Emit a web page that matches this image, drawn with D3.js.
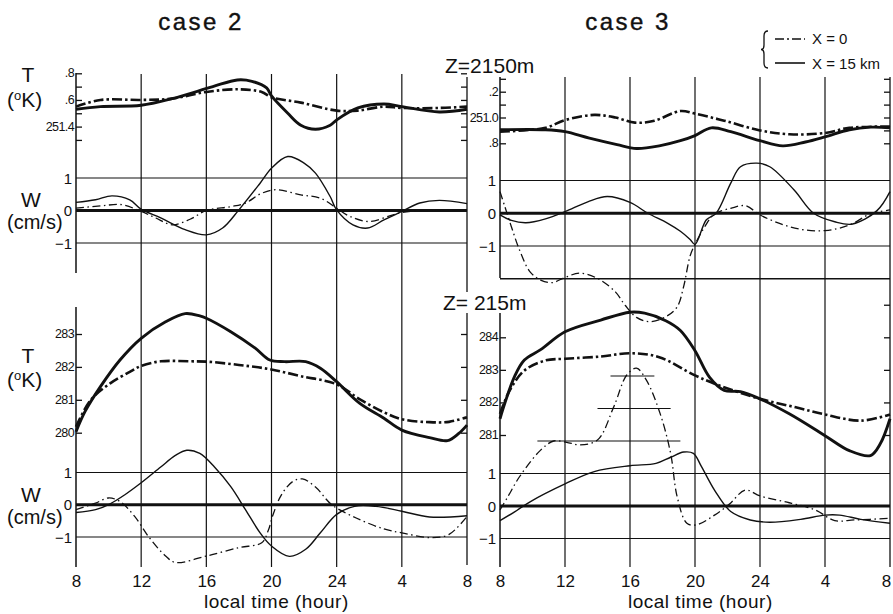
<!DOCTYPE html>
<html>
<head>
<meta charset="utf-8">
<script src="https://cdn.jsdelivr.net/npm/d3@7"></script>
<style>
  body { margin: 0; background: #fff; }
  text { font-family: "Liberation Sans", Arial, sans-serif; fill: #111; }
</style>
</head>
<body>
<div class="chart"></div>
<script>
// Data: hours after 08 local time

var hourTicks = [0, 4, 8, 12, 16, 20, 24];
var hourLabels = ["8", "12", "16", "20", "24", "4", "8"];
var wTicks = [-1, 0, 1];
var wLabels = ["\u22121", "0", "1"];

// case 2, Z = 2150 m
var c2_2150_Tticks = [251.3, 251.4, 251.5, 251.6, 251.7, 251.8];
var c2_2150_Tlabels = ["", "251.4", "", ".6", "", ".8"];
var c2_2150_T_x15 = [[0,251.53],[1.5,251.55],[4,251.56],[5.9,251.61],[8.4,251.70],[9.9,251.75],[10.8,251.74],[11.7,251.69],[12,251.63],[13,251.50],[13.8,251.41],[14.7,251.38],[15.6,251.41],[16,251.45],[17.3,251.54],[18.9,251.57],[20,251.55],[22.3,251.51],[24,251.53]];
var c2_2150_T_x0 = [[0,251.55],[1.5,251.60],[4,251.60],[5.9,251.61],[8,251.66],[10,251.68],[11.4,251.66],[12,251.62],[13.8,251.58],[16,251.52],[17.3,251.52],[18.9,251.55],[20,251.54],[22.3,251.54],[24,251.55]];
var c2_2150_W_x15 = [[0,0.25],[1.2,0.33],[2.2,0.45],[3.3,0.33],[4,0.04],[5.2,-0.23],[6.7,-0.59],[8,-0.75],[9,-0.54],[10,0.02],[11.3,0.84],[12,1.30],[13,1.66],[14,1.46],[14.7,1.15],[15.6,0.43],[16,0.02],[17,-0.44],[17.9,-0.54],[18.9,-0.29],[20,-0.03],[21.1,0.23],[22.3,0.31],[24,0.21]];
var c2_2150_W_x0 = [[0,0.07],[1.5,0.14],[2.8,0.18],[4,-0.03],[4.9,-0.23],[5.9,-0.44],[7,-0.27],[8,0],[9.5,0.12],[10.4,0.23],[11.4,0.53],[12.3,0.64],[13.8,0.48],[15,0.38],[16,0.07],[16.8,-0.18],[18,-0.34],[19.3,-0.16],[20,-0.06],[21.7,0],[24,0.02]];

// case 3, Z = 2150 m
var c3_2150_Tticks = [250.8, 250.9, 251.0, 251.1, 251.2, 251.3];
var c3_2150_Tlabels = [".8", "", "251.0", "", ".2", ""];
var c3_2150_T_x15 = [[0,250.905],[2.8,250.905],[4,250.89],[5.5,250.84],[7.2,250.79],[8.4,250.76],[9.8,250.78],[11.1,250.82],[12,250.86],[13,250.92],[14.2,250.89],[16,250.82],[17.4,250.78],[18.8,250.81],[20,250.85],[21.5,250.905],[22.8,250.925],[24,250.92]];
var c3_2150_T_x0 = [[0,250.89],[2.8,250.92],[4,250.98],[5.8,251.02],[7.1,251.0],[8.3,250.96],[9.5,250.975],[11.1,251.05],[12,251.03],[13.8,250.975],[16,250.90],[17.8,250.87],[20,250.88],[21.5,250.92],[24,250.93]];
var c3_2150_W_x15 = [[0,-0.05],[0.7,-0.22],[1.6,-0.29],[2.8,-0.17],[4,0.05],[5.4,0.35],[6.6,0.51],[8,0.33],[9.1,0],[10.3,-0.3],[11.1,-0.55],[11.7,-0.8],[12,-0.95],[12.7,-0.2],[13.3,0],[14.2,0.92],[14.8,1.42],[15.8,1.53],[16.6,1.42],[18.1,0.71],[19.3,0],[20.6,-0.26],[21.7,-0.33],[23.2,0.08],[24,0.66]];
var c3_2150_W_x0 = [[0,0.66],[0.3,0.2],[0.7,-0.41],[1.2,-1.12],[1.85,-1.79],[2.5,-2.04],[3.2,-2.12],[4,-1.96],[4.9,-1.83],[6,-1.99],[7.1,-2.40],[7.7,-2.81],[8.4,-3.18],[9.2,-3.31],[10.2,-3.16],[10.9,-2.86],[11.3,-2.24],[11.7,-1.3],[12,-0.95],[12.6,-0.41],[13.2,-0.02],[14.2,0.15],[15.1,0.23],[16,-0.05],[17.2,-0.31],[18.5,-0.49],[20,-0.53],[21.5,-0.36],[22.8,-0.02],[24,0.1]];

// case 2, Z = 215 m
var c2_215_Tticks = [280, 281, 282, 283];
var c2_215_Tlabels = ["280", "281", "282", "283"];
var c2_215_T_x15 = [[0,280.03],[0.55,280.64],[1.5,281.40],[2.7,282.21],[4,282.87],[5.5,283.37],[6.7,283.62],[7.6,283.55],[8,283.48],[9.5,283.07],[11,282.57],[11.9,282.21],[12.8,282.16],[14.1,282.16],[15,281.96],[16,281.55],[17.4,280.90],[18.9,280.44],[20,280.08],[21.7,279.85],[22.8,279.76],[23.5,279.98],[24,280.23]];
var c2_215_T_x0 = [[0,280.18],[0.9,280.99],[2.1,281.50],[3.3,281.85],[4,282.03],[5.2,282.17],[7,282.17],[8,282.16],[10,282.06],[11.9,281.93],[13.8,281.72],[16,281.47],[17.4,281.02],[18.9,280.62],[20,280.41],[21.7,280.32],[22.9,280.33],[24,280.47]];
var c2_215_W_x15 = [[0,-0.24],[1.2,-0.15],[2.1,0.03],[3,0.31],[4,0.68],[5.2,1.17],[6.1,1.53],[6.8,1.69],[7.6,1.59],[8.5,1.17],[9.5,0.56],[10.4,-0.15],[11.3,-0.87],[12,-1.28],[13.1,-1.6],[14.1,-1.38],[15,-0.87],[16,-0.3],[17.1,-0.05],[18.4,-0.05],[20,-0.2],[21.7,-0.38],[24,-0.34]];
var c2_215_W_x0 = [[0,-0.15],[1.2,0.05],[2,0.21],[2.7,0.10],[3.6,-0.36],[4.5,-1.02],[5.5,-1.59],[6.1,-1.79],[8,-1.59],[10,-1.33],[11.4,-1.18],[11.8,-0.8],[12.1,-0.3],[12.6,0.3],[13.3,0.72],[13.9,0.8],[14.7,0.55],[15.7,0],[17.2,-0.41],[18.9,-0.75],[20,-0.87],[21.8,-1.02],[22.9,-0.92],[24,-0.36]];

// case 3, Z = 215 m
var c3_215_Tticks = [281, 282, 283, 284, 285];
var c3_215_Tlabels = ["281", "282", "283", "284", ""];
var c3_215_T_x15 = [[0,281.5],[0.3,281.98],[0.9,282.8],[1.5,283.3],[2.5,283.62],[4,284.17],[6.2,284.53],[8,284.77],[8.9,284.74],[10.2,284.51],[11.1,284.21],[12,283.59],[12.9,282.77],[13.8,282.37],[14.8,282.33],[16,282.11],[17.8,281.65],[20,280.98],[21.5,280.52],[22.8,280.37],[23.4,280.73],[24,281.50]];
var c3_215_T_x0 = [[0,281.65],[0.6,282.37],[1.5,282.98],[2.8,283.29],[4,283.34],[6.2,283.41],[8,283.51],[9.8,283.39],[12,282.83],[13.5,282.52],[16,282.11],[18.2,281.85],[20,281.63],[22.2,281.44],[24,281.63]];
var c3_215_W_x15 = [[0,-0.45],[0.9,-0.18],[1.85,0.13],[4,0.68],[5.8,1.06],[8,1.24],[9.6,1.31],[10.5,1.5],[11.3,1.66],[11.9,1.62],[12.4,1.21],[13.2,0.49],[14.2,-0.17],[15.4,-0.43],[16.6,-0.50],[18.5,-0.41],[20,-0.28],[20.9,-0.28],[22.2,-0.41],[24,-0.53]];
var c3_215_W_x0 = [[0,-0.12],[0.5,0.3],[1.2,0.9],[2.5,1.72],[3.3,2.0],[4.1,1.96],[4.9,1.88],[6,2.03],[7,3.05],[7.8,4.03],[8.4,4.24],[9,3.88],[9.85,2.85],[10.5,1.62],[10.9,0.29],[11.5,-0.53],[12.1,-0.58],[13.2,-0.28],[14.1,0.05],[15.1,0.49],[16,0.31],[17.8,0.10],[19.4,-0.12],[20.6,-0.45],[21.8,-0.43],[24,-0.38]];
// off-scale W reference bars (cm/s, from hour, to hour) for the X = 0 curve
var c3_215_Wbars = [[2, 2.3, 11.1], [3, 6.0, 10.5], [4, 6.8, 9.5]];

// Step 1: Set up chart
var svgWidth = 893;
var svgHeight = 614;
var ink = "#111";

var svg = d3.select(".chart")
  .append("svg")
  .attr("width", svgWidth)
  .attr("height", svgHeight);

var xLeft = d3.scaleLinear().domain([0, 24]).range([76, 467]);
var xRight = d3.scaleLinear().domain([0, 24]).range([500, 890]);

var panels = [
  { x: xLeft, yT: d3.scaleLinear().domain([251.4, 251.8]).range([126.6, 73.3]),
    yW: d3.scaleLinear().domain([-1, 1]).range([243, 178]),
    ticks: c2_2150_Tticks, labels: c2_2150_Tlabels, axisY: [73, 273],
    T15: c2_2150_T_x15, T0: c2_2150_T_x0, W15: c2_2150_W_x15, W0: c2_2150_W_x0 },
  { x: xRight, yT: d3.scaleLinear().domain([250.8, 251.2]).range([143.3, 91.7]),
    yW: d3.scaleLinear().domain([-1, 1]).range([246, 180.5]),
    ticks: c3_2150_Tticks, labels: c3_2150_Tlabels, axisY: [77, 278], floor: -2,
    T15: c3_2150_T_x15, T0: c3_2150_T_x0, W15: c3_2150_W_x15, W0: c3_2150_W_x0 },
  { x: xLeft, yT: d3.scaleLinear().domain([280, 283]).range([432.7, 334]),
    yW: d3.scaleLinear().domain([-1, 1]).range([537, 472.5]),
    ticks: c2_215_Tticks, labels: c2_215_Tlabels, axisY: [307, 567], hours: true,
    T15: c2_215_T_x15, T0: c2_215_T_x0, W15: c2_215_W_x15, W0: c2_215_W_x0 },
  { x: xRight, yT: d3.scaleLinear().domain([281, 284]).range([435, 337.3]),
    yW: d3.scaleLinear().domain([-1, 1]).range([538.5, 473.5]),
    ticks: c3_215_Tticks, labels: c3_215_Tlabels, axisY: [303, 567], hours: true,
    T15: c3_215_T_x15, T0: c3_215_T_x0, W15: c3_215_W_x15, W0: c3_215_W_x0 }
];

function seg(x1, y1, x2, y2, w) {
  return svg.append("line")
    .attr("x1", x1).attr("y1", y1).attr("x2", x2).attr("y2", y2)
    .attr("stroke", ink).attr("stroke-width", w || 1.2);
}

// Step 2: vertical grid lines and frame edges
hourTicks.forEach(function(h) {
  if (h > 0 && h < 24) {
    seg(xLeft(h), 74, xLeft(h), 567, 1.2);
    seg(xRight(h), 77, xRight(h), 567, 1.2);
  }
});
seg(xLeft(24), 77, xLeft(24), 565, 1.3);
seg(xRight(24), 77, xRight(24), 567, 1.3);

// Step 3: panels
panels.forEach(function(p) {
  var x0 = p.x.range()[0], x1 = p.x.range()[1];

  // left axis line
  seg(x0, p.axisY[0], x0, p.axisY[1], 1.5);

  // W reference lines
  wTicks.forEach(function(w, i) {
    seg(x0, p.yW(w), x1, p.yW(w), w === 0 ? 2.8 : 1.1);
    svg.append("text")
      .attr("x", x0 - 4).attr("y", p.yW(w) + 5.5)
      .attr("text-anchor", "end")
      .style("font-size", "15px")
      .text(wLabels[i]);
  });
  if (p.floor !== undefined) seg(x0, p.yW(p.floor), x1, p.yW(p.floor), 1.3);

  // T ticks, both edges
  var tAxis = svg.append("g")
    .attr("transform", `translate(${x0}, 0)`)
    .call(d3.axisRight(p.yT).tickValues(p.ticks).tickSize(6).tickFormat(""));
  tAxis.select(".domain").remove();
  tAxis.selectAll("line").attr("stroke", ink).attr("stroke-width", 1.3);

  p.ticks.forEach(function(t, i) {
    if (p.labels[i] !== "") {
      svg.append("text")
        .attr("x", x0 - 2).attr("y", p.yT(t) + 4)
        .attr("text-anchor", "end")
        .style("font-size", "12.5px")
        .style("letter-spacing", "-0.6px")
        .text(p.labels[i]);
    }
  });

  var tEdge = svg.append("g")
    .attr("transform", `translate(${x1}, 0)`)
    .call(d3.axisLeft(p.yT).tickValues(p.ticks).tickSize(6).tickFormat(""));
  tEdge.select(".domain").remove();
  tEdge.selectAll("line").attr("stroke", ink).attr("stroke-width", 1.3);

  // curves
  drawCurve(p.T15, p.x, p.yT, 2.9, null);
  drawCurve(p.T0, p.x, p.yT, 2.6, "10,3,2.5,3");
  drawCurve(p.W15, p.x, p.yW, 1.4, null);
  drawCurve(p.W0, p.x, p.yW, 1.3, "8,3.5,1.5,3.5");

  // hour axis (bottom panels only)
  if (p.hours) {
    var bottomAxis = d3.axisBottom(p.x)
      .tickValues(hourTicks)
      .tickSize(0)
      .tickPadding(0)
      .tickFormat((d, i) => hourLabels[i]);
    var xAxis = svg.append("g")
      .attr("transform", "translate(0, 575)")
      .call(bottomAxis);
    xAxis.select(".domain").remove();
    xAxis.selectAll("text")
      .attr("fill", ink)
      .style("font-family", '"Liberation Sans", Arial, sans-serif')
      .style("font-size", "17px");
    // keep the last right-hand "8" inside the page
    if (p.x === xRight) {
      xAxis.selectAll(".tick").filter(d => d === 24).select("text").attr("dx", -4);
    }
  }
});

// reference bars of the off-scale W curve, case 3 low level
var pD = panels[3];
c3_215_Wbars.forEach(function(b) {
  seg(pD.x(b[1]), pD.yW(b[0]), pD.x(b[2]), pD.yW(b[0]), 1.2);
});

function drawCurve(data, xs, ys, width, dash) {
  var line = d3.line()
    .x(d => xs(d[0]))
    .y(d => ys(d[1]))
    .curve(d3.curveCatmullRom.alpha(0.5));
  svg.append("path")
    .attr("d", line(data))
    .attr("fill", "none")
    .attr("stroke", ink)
    .attr("stroke-width", width)
    .attr("stroke-dasharray", dash);
}

// Step 4: labels
function label(x, y, size, txt, anchor) {
  return svg.append("text")
    .attr("x", x).attr("y", y)
    .attr("text-anchor", anchor || "start")
    .style("font-size", size + "px")
    .text(txt);
}

label(201, 30, 24, "case 2", "middle").style("letter-spacing", "2.5px").attr("stroke", ink).attr("stroke-width", 0.4);
label(628, 30, 24, "case 3", "middle").style("letter-spacing", "2.5px").attr("stroke", ink).attr("stroke-width", 0.4);

[[82, 107, 207, 229], [363, 387, 502, 524]].forEach(function(r) {
  label(28, r[0], 21, "T", "middle");
  var k = label(7, r[1], 21, "(");
  k.append("tspan").attr("dy", -7).style("font-size", "13px").text("o");
  k.append("tspan").attr("dy", 7).text("K)");
  label(31, r[2], 21, "W", "middle");
  label(7, r[3], 20, "(cm/s)");
});

svg.append("rect").attr("x", 441).attr("y", 292).attr("width", 92).attr("height", 21).attr("fill", "#fff");
label(445, 73, 21, "Z=2150m");
label(443, 310, 21, "Z= 215m");

label(204, 608, 19, "local   time (hour)").style("letter-spacing", "0.5px");
label(628, 608, 19, "local   time (hour)").style("letter-spacing", "0.5px");

// Step 5: legend
svg.append("path")
  .attr("d", "M768,31 Q764,31 764,36 L764,45 Q764,49.5 761,49.5 Q764,49.5 764,54 L764,63 Q764,68 768,68")
  .attr("fill", "none").attr("stroke", ink).attr("stroke-width", 1.3);
seg(775, 39, 805, 39, 1.6).attr("stroke-dasharray", "9,3,2,3");
seg(775, 63, 805, 63, 1.6);
label(812, 44, 15, "X = 0");
label(812, 69, 15, "X = 15 km");
</script>
</body>
</html>
